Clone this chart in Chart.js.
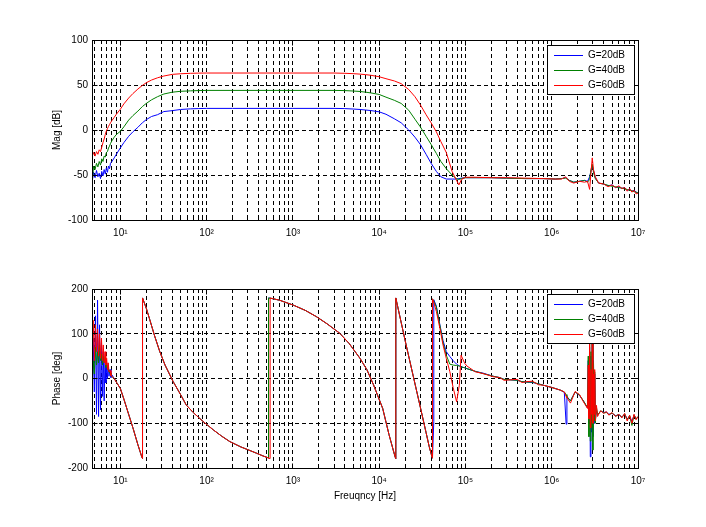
<!DOCTYPE html>
<html>
<head>
<meta charset="utf-8">
<script src="https://cdn.jsdelivr.net/npm/chart.js@4.4.0/dist/chart.umd.min.js"></script>
<style>
  body { margin: 0; background: #fff; }
  #wrap { position: relative; width: 706px; height: 527px; }
  canvas { position: absolute; left: 0; }
  #magChart { top: 0; }
  #phaseChart { top: 260px; }
</style>
</head>
<body>
<div id="wrap">
  <canvas id="magChart" width="706" height="260"></canvas>
  <canvas id="phaseChart" width="706" height="267"></canvas>
</div>
<script>
// series names / colours (legend order)
const seriesLabels = ["G=20dB", "G=40dB", "G=60dB"];
const seriesColors = ["#0000ff", "#008000", "#ff0000"];

// x axis
const xMin = 4.7, xMax = 1e7;
const xMajorTicks = [10, 100, 1000, 10000, 100000, 1000000, 10000000];
const xTickLabels = ["10\u00B9", "10\u00B2", "10\u00B3", "10\u2074", "10\u2075", "10\u2076", "10\u2077"];

// magnitude plot
const magFreq = [
  4.7, 4.9, 5.1, 5.3, 5.5, 5.7, 5.9, 6.1, 6.3, 6.5, 6.7, 6.9, 7.1, 7.3, 7.5, 7.7, 8.0,
  8.5, 9, 10, 11, 12.5, 14, 16, 18, 20, 23, 27, 32, 40, 50, 65, 80,
  100, 200, 500, 1000, 2000, 3000, 4000, 5000, 6000, 7000, 8000, 10000, 12000, 15000, 18000, 22000,
  26000, 30000, 35000, 40000, 46000, 52000, 60000, 70000, 78000, 84000, 90000, 100000, 130000, 200000,
  300000, 500000, 800000, 1.1e6, 1.3e6, 1.45e6, 1.6e6, 1.8e6, 2.1e6, 2.4e6, 2.6e6, 2.75e6, 2.85e6, 2.95e6, 3.05e6, 3.2e6,
  3.5e6, 4e6, 4.5e6, 5e6, 5.5e6, 6e6, 6.5e6, 7e6, 7.5e6, 8e6, 8.5e6, 9e6, 9.5e6, 1e7
];
const magG20 = [
  -58, -47, -53, -45, -52, -48, -54, -46, -51, -44, -49, -42, -47, -40, -43, -37, -35,
  -31, -27, -20, -14, -7, -2, 3, 8, 11.5, 15, 17, 20.5, 21.5, 22.8, 23.5, 23.8,
  24, 24, 24, 24, 24, 24, 23.8, 23.3, 22.8, 22.2, 21.6, 20.2, 17.5, 12.5, 8, 0,
  -8, -16, -27, -37, -46, -52, -54.5, -54.5, -54.5, -54, -53.5, -53, -53, -53,
  -53.5, -54, -54, -54.5, -54, -53, -56, -58, -57, -56, -57, -52, -46, -40, -45, -53,
  -59, -60, -62, -61, -64, -63, -65, -64, -67, -66, -68, -67, -69, -70
];
const magG40 = [
  -62, -40, -44, -37, -41, -35, -39, -32, -35, -29, -30, -25, -24, -20, -18, -15, -12,
  -8, -5, -1.5, 3.5, 11, 16, 21, 26, 29.5, 33.5, 37, 40, 42, 43, 43.5, 43.8,
  44, 44, 44, 44, 44, 44, 43.8, 43.3, 42.8, 42, 41.2, 39.5, 36.5, 33, 29.5, 22,
  12, 3.5, -7, -16, -26, -35, -43, -50, -54, -55, -54, -53, -53, -53,
  -53.5, -54, -54, -54.5, -54, -53.5, -56, -58, -57, -56, -58, -55, -44, -38, -47, -54,
  -59, -60, -61.5, -62.5, -63, -64, -64.5, -65.5, -66, -67, -67.5, -68.5, -69, -70
];
const magG60 = [
  -30, -25, -29, -24, -27, -22, -24, -19, -14, -10, -5, -1, 1.5, 4, 6, 8, 10.5,
  14, 17.5, 23, 29, 35.5, 40.5, 45.5, 49.5, 52.5, 55.5, 58, 60, 61.8, 62.5, 63, 63.2,
  63.3, 63.3, 63.3, 63.3, 63.3, 63.3, 63, 62.6, 62.1, 61.5, 60.8, 59.2, 57, 54.5, 51.5, 45,
  37, 28, 17, 8, -2, -13, -25, -46, -55, -61, -55, -52.5, -52.5, -53,
  -53, -53.5, -54, -54.5, -54.5, -52, -57, -59, -57, -58, -57, -66, -48, -31, -44, -52,
  -59, -60, -63, -61, -64, -62, -65, -64, -68, -65, -69, -67, -71, -70
];

// phase plot
const phaseFreq = [
  4.7, 4.85, 5.0, 5.15, 5.3, 5.45, 5.6, 5.75, 5.9, 6.05, 6.2, 6.35, 6.5, 6.65, 6.8, 6.95, 7.1, 7.25, 7.4, 7.6, 7.8, 8.0,
  8.5, 9, 10, 11, 12.5, 14, 16, 17.6, 18.1, 18.1,
  20, 22, 25, 28.7, 33, 41, 50, 58, 70, 91, 120, 150, 186, 250, 300, 380, 450, 522, 522, 545, 545,
  700, 1012, 1400, 1880, 2500, 3500, 4500, 6000, 7200, 8600, 11000, 13000, 15300, 15600, 15600,
  20000, 25000, 30000, 35000, 38000, 40000, 41500, 41500, 43000, 43000,
  46000, 50600, 55000, 60000, 66000, 72000, 79000, 85000, 89000, 98000, 104000,
  130000, 160000, 210000, 250000, 280000, 330000, 400000, 450000, 516000, 600000, 700000, 800000, 1.0e6, 1.26e6, 1.4e6, 1.47e6, 1.5e6, 1.65e6, 1.87e6, 2.1e6, 2.33e6, 2.6e6,
  2.65e6, 2.7e6, 2.75e6, 2.8e6, 2.85e6, 2.9e6, 2.95e6, 3.0e6, 3.05e6, 3.1e6, 3.15e6, 3.2e6, 3.3e6, 3.4e6, 3.5e6,
  3.7e6, 4e6, 4.3e6, 4.6e6, 5e6, 5.5e6, 6e6, 6.5e6, 7e6, 7.5e6, 8e6, 8.5e6, 9e6, 9.5e6, 1e7
];
const phaseG20 = [
  -60, 90, -30, 140, -80, 175, -85, 120, -70, 80, -40, 60, -50, 40, -10, 35, 0, 30, 5, 20, 2, 8,
  0, -8, -22, -46, -80, -110, -148, -173, -179, 180,
  157, 131, 95, 60, 30, -7, -36, -59, -76, -96, -115, -129, -141, -153, -159, -167, -173, -177.5, 180, 179.5, 179.5,
  175, 164, 152, 138, 122, 101, 78, 45, 20, -14, -67, -125, -175, -179, 180,
  85, 3, -64, -121, -152, -168, -178, -178, -96, 176,
  162, 120, 85, 60, 49, 40, 32, 28, 26, 24, 22,
  16, 12, 5, 2, -2, -3, -4, -7, -8, -9, -12, -15, -20, -26, -31, -102, -40, -50, -30, -38, -50, -66,
  40, -100, 70, -175, 50, -120, 80, -130, 40, -100, 10, -95, -70, -82, -78,
  -73, -76, -75, -80, -78, -83, -81, -86, -80, -90, -84, -96, -82, -90, -86
];
const phaseG40 = [
  -30, 40, 10, 70, 30, 60, 35, 75, 40, 55, 30, 50, 35, 45, 25, 35, 20, 25, 15, 12, 8, 4,
  0, -8, -22, -46, -80, -110, -148, -173, -179, 180,
  157, 131, 95, 60, 30, -7, -36, -59, -76, -96, -115, -129, -141, -153, -159, -167, -173, -177.5, 180, 179.5, 179.5,
  175, 164, 152, 138, 122, 101, 78, 45, 20, -14, -67, -125, -175, -179, 180,
  85, 3, -64, -121, -152, -168, -178, 178, 172, 172,
  160, 118, 80, 52, 32, 30, 29, 28, 26, 24, 22,
  16, 11, 5, 2, -2, -3, -4, -7, -8, -8, -12, -15, -20, -26, -30, -36, -41, -50, -30, -37, -50, -65,
  50, -130, 80, -140, 60, -110, 85, -160, 35, -95, 15, -100, -65, -80, -79,
  -72, -77, -76, -81, -77, -84, -80, -87, -79, -92, -83, -105, -81, -91, -85
];
const phaseG60 = [
  60, 130, 40, 120, 60, 110, 50, 100, 45, 90, 40, 75, 35, 60, 30, 45, 20, 35, 15, 18, 6, 5,
  0, -8, -22, -46, -80, -110, -148, -173, -179, 180,
  157, 131, 95, 60, 30, -7, -36, -59, -76, -96, -115, -129, -141, -153, -159, -167, -173, -177.5, -178, -179, 180,
  175, 164, 152, 138, 122, 101, 78, 45, 20, -14, -67, -125, -175, -179, 180,
  85, 3, -64, -121, -152, -168, -178, 178, 170, 170,
  150, 112, 75, 45, 15, -20, -52, -15, 52, 34, 28,
  15, 11, 4, 2, -4, -3, -2, -9, -7, -6, -14, -15, -20, -26, -30, -40, -43, -55, -29, -36, -52, -67,
  30, -90, 90, -110, 20, -80, 95, -100, 10, -80, 20, -95, -60, -85, -80,
  -72, -78, -74, -82, -76, -85, -80, -88, -78, -95, -82, -100, -80, -92, -85
];

const FONT = '"Liberation Sans", Arial, sans-serif';

// all log grid positions 5,6,...,9,10,20,...,1e7
const xTicks = [];
for (let d = 0; d <= 7; d++) {
  for (let m = 1; m <= 9; m++) {
    const v = m * Math.pow(10, d);
    if (v >= xMin && v <= xMax) xTicks.push(v);
  }
}

function align(p) { return Math.round(p - 0.5) + 0.5; }

// box, inner tick marks and legend, drawn the matlab way
const matlabFrame = {
  id: "matlabFrame",
  afterDatasetsDraw(chart) {
    const { ctx, chartArea: a, scales: { x, y } } = chart;
    const L = align(a.left), R = align(a.right), T = align(a.top), B = align(a.bottom);
    ctx.save();
    ctx.strokeStyle = "#000";
    ctx.lineWidth = 1;
    ctx.setLineDash([]);
    const line = (x1, y1, x2, y2) => { ctx.beginPath(); ctx.moveTo(x1, y1); ctx.lineTo(x2, y2); ctx.stroke(); };

    x.ticks.forEach(t => {
      const px = align(x.getPixelForValue(t.value));
      const len = xMajorTicks.includes(t.value) ? 5 : 3;
      line(px, B, px, B - len);
      line(px, T, px, T + len);
    });
    y.ticks.forEach(t => {
      const py = align(y.getPixelForValue(t.value));
      line(L, py, L + 5, py);
      line(R, py, R - 5, py);
    });
    ctx.strokeRect(L, T, R - L, B - T);

    // legend
    const bx = Math.round(a.right) - 91, by = Math.round(a.top) + 5;
    ctx.fillStyle = "#fff";
    ctx.fillRect(bx, by, 88, 50);
    ctx.strokeStyle = "#000";
    ctx.strokeRect(bx + 0.5, by + 0.5, 87, 49);
    ctx.font = "10px " + FONT;
    ctx.textBaseline = "middle";
    ctx.textAlign = "left";
    seriesLabels.forEach((lab, i) => {
      const ly = by + 10 + i * 15;
      ctx.fillStyle = seriesColors[i];
      ctx.fillRect(bx + 7, ly, 29, 1);
      ctx.fillStyle = "#000";
      ctx.fillText(lab, bx + 41, ly + 0.5);
    });
    ctx.restore();
  }
};

function makeChart(id, freq, series, yMin, yMax, yStep, yTitle, pad, xHeight, xTitle) {
  const datasets = series.map((vals, i) => ({
    label: seriesLabels[i],
    data: freq.map((f, j) => ({ x: f, y: vals[j] })),
    borderColor: seriesColors[i],
    borderWidth: 1,
    pointRadius: 0,
    tension: 0,
    fill: false,
    order: series.length - i   // red on top, like matlab's draw order
  }));

  return new Chart(document.getElementById(id), {
    type: "line",
    data: { datasets },
    plugins: [matlabFrame],
    options: {
      responsive: false,
      animation: false,
      events: [],
      devicePixelRatio: 1,
      layout: { padding: pad },
      plugins: { legend: { display: false }, tooltip: { enabled: false } },
      scales: {
        x: {
          type: "logarithmic",
          min: xMin,
          max: xMax,
          afterBuildTicks: s => { s.ticks = xTicks.map(v => ({ value: v })); },
          afterFit: s => { s.height = xHeight; },
          ticks: {
            autoSkip: false,
            maxRotation: 0,
            minRotation: 0,
            padding: 7,
            color: "#000",
            font: { family: FONT, size: 10 },
            callback: v => {
              const k = xMajorTicks.indexOf(v);
              return k >= 0 ? xTickLabels[k] : "";
            }
          },
          grid: { color: "#000", lineWidth: 1, drawTicks: false },
          border: { display: false, dash: [4, 3] },
          title: {
            display: !!xTitle,
            text: xTitle || "",
            color: "#000",
            font: { family: FONT, size: 10 },
            padding: { top: 4, bottom: 4 }
          }
        },
        y: {
          type: "linear",
          min: yMin,
          max: yMax,
          afterFit: s => { s.width = 45; },
          ticks: {
            stepSize: yStep,
            padding: 4,
            color: "#000",
            font: { family: FONT, size: 10 }
          },
          grid: { color: "#000", lineWidth: 1, drawTicks: false },
          border: { display: false, dash: [4, 3] },
          title: {
            display: true,
            text: yTitle,
            color: "#000",
            font: { family: FONT, size: 10 },
            padding: { top: 4, bottom: 4 }
          }
        }
      }
    }
  });
}

makeChart("magChart", magFreq, [magG20, magG40, magG60], -100, 100, 50, "Mag [dB]",
  { left: 47, right: 68, top: 40, bottom: 0 }, 40, null);
makeChart("phaseChart", phaseFreq, [phaseG20, phaseG40, phaseG60], -200, 200, 100, "Phase [deg]",
  { left: 47, right: 68, top: 29, bottom: 21 }, 38, "Freuqncy [Hz]");
</script>
</body>
</html>
